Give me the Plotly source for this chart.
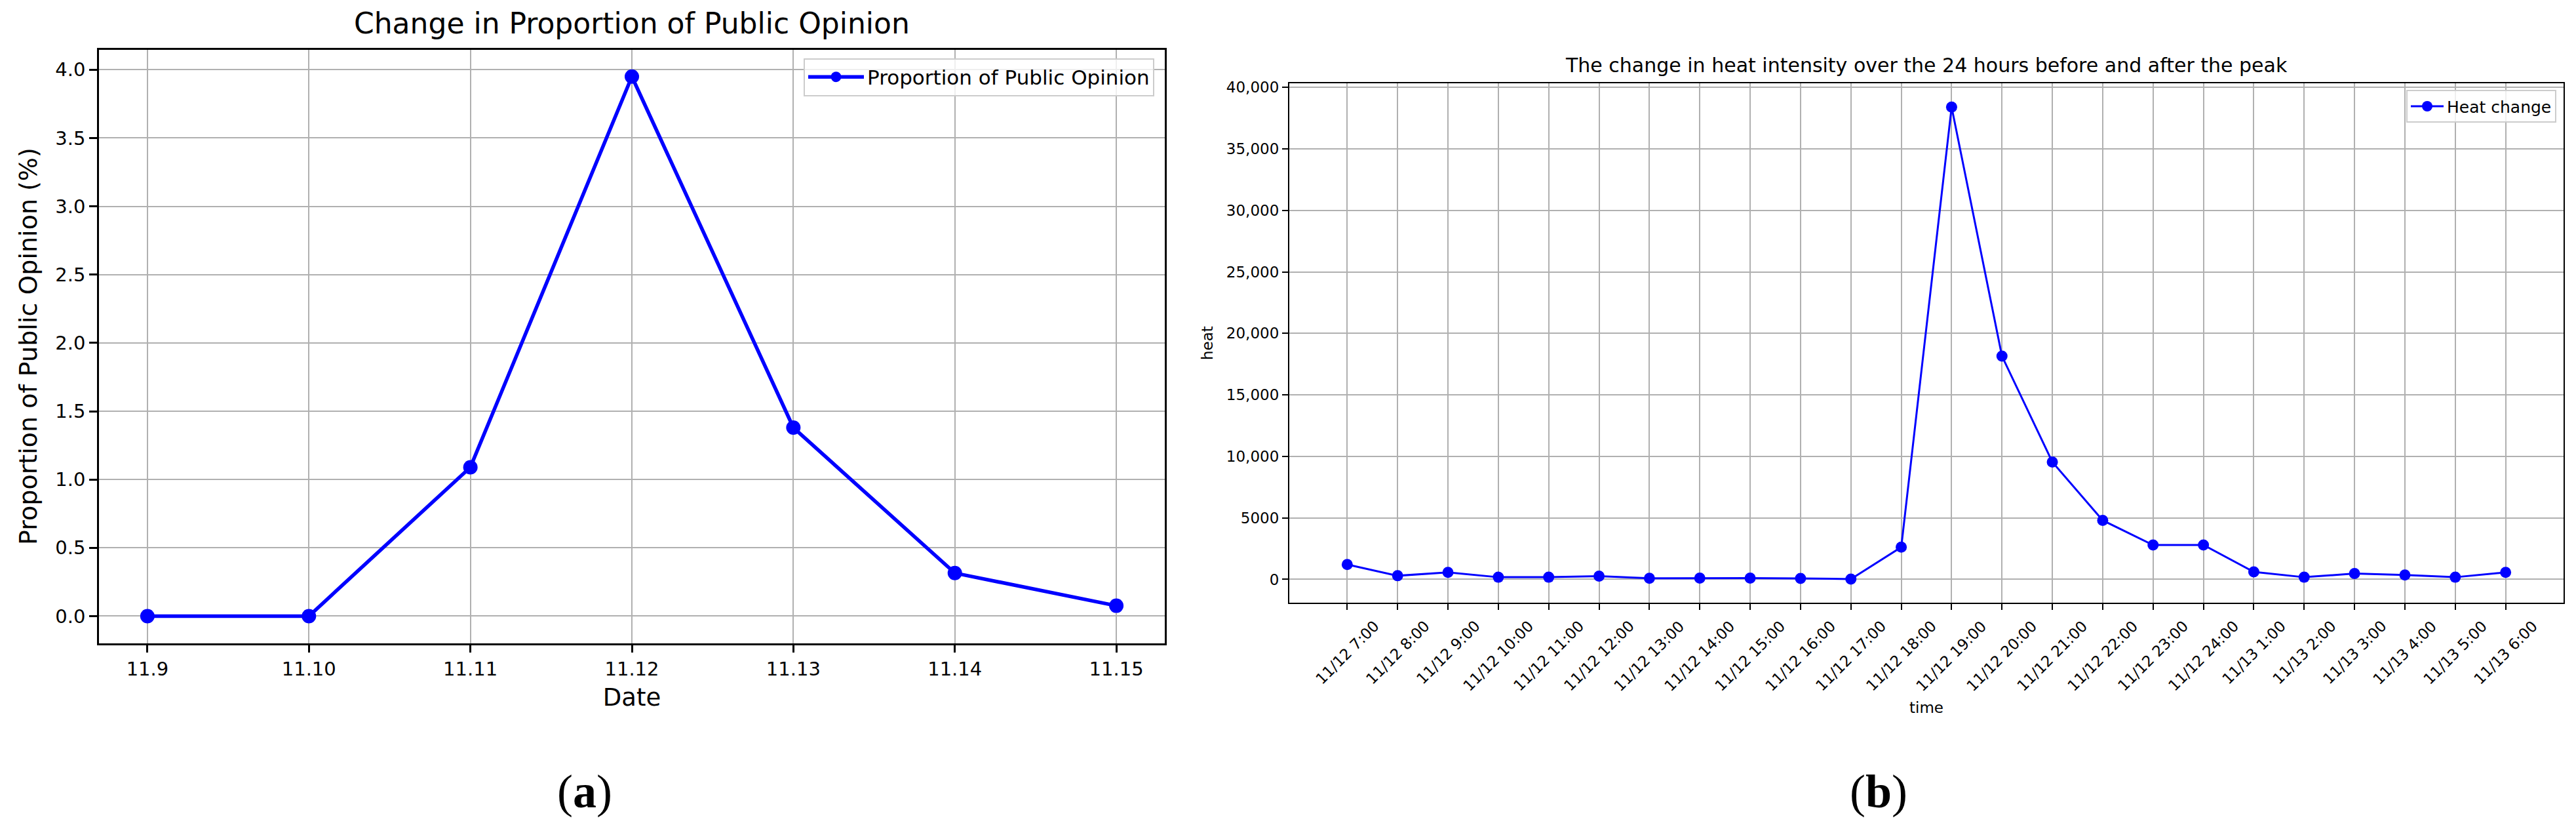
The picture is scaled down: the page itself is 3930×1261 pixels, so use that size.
import numpy as np
import plotly.graph_objects as go

# ---------------- data ----------------
dates = ["11.9", "11.10", "11.11", "11.12", "11.13", "11.14", "11.15"]
opinion_pct = [0.0, 0.0, 1.09, 3.95, 1.38, 0.315, 0.076]

hours = ["11/12 7:00", "11/12 8:00", "11/12 9:00", "11/12 10:00", "11/12 11:00",
         "11/12 12:00", "11/12 13:00", "11/12 14:00", "11/12 15:00", "11/12 16:00",
         "11/12 17:00", "11/12 18:00", "11/12 19:00", "11/12 20:00", "11/12 21:00",
         "11/12 22:00", "11/12 23:00", "11/12 24:00", "11/13 1:00", "11/13 2:00",
         "11/13 3:00", "11/13 4:00", "11/13 5:00", "11/13 6:00"]
heat = [1210, 300, 570, 180, 180, 270, 90, 110, 110, 80, 30, 2620,
        38400, 18150, 9550, 4800, 2800, 2800, 610, 180, 480, 360, 180, 570]

a_yticks = [0.0, 0.5, 1.0, 1.5, 2.0, 2.5, 3.0, 3.5, 4.0]
b_yticks = [0, 5000, 10000, 15000, 20000, 25000, 30000, 35000, 40000]
b_yticklabels = ["0", "5000", "10,000", "15,000", "20,000", "25,000", "30,000", "35,000", "40,000"]

# ---------------- layout helpers ----------------
W, H = 3930, 1261
FONT = "DejaVu Sans"


def fx(p):
    return p / W


def fy(p):
    return 1 - p / H


def pad_range(vals, frac=0.05):
    lo, hi = float(np.min(vals)), float(np.max(vals))
    m = (hi - lo) * frac
    return [lo - m, hi + m]


def cat_range(n, frac=0.05):
    m = (n - 1) * frac
    return [-m, n - 1 + m]


GRID = "#b0b0b0"

fig = go.Figure()

fig.add_trace(go.Scatter(
    x=dates, y=opinion_pct, mode="lines+markers",
    name="Proportion of Public Opinion",
    line=dict(color="#0000ff", width=5.5),
    marker=dict(color="#0000ff", size=22),
    xaxis="x", yaxis="y", legend="legend",
))

fig.add_trace(go.Scatter(
    x=hours, y=heat, mode="lines+markers",
    name="Heat change",
    line=dict(color="#0000ff", width=3),
    marker=dict(color="#0000ff", size=17),
    xaxis="x2", yaxis="y2", legend="legend2",
))

axis_common = dict(
    showline=True, mirror=True, linecolor="black",
    ticks="outside", tickcolor="black",
    showgrid=True, gridcolor=GRID, zeroline=False,
)

annotations = []

# panel titles
annotations.append(dict(text="Change in Proportion of Public Opinion",
                        x=fx((151 + 1777) / 2), y=fy(29), xref="paper", yref="paper",
                        xanchor="center", yanchor="middle", showarrow=False,
                        font=dict(family=FONT, size=44, color="black")))
annotations.append(dict(text="The change in heat intensity over the 24 hours before and after the peak",
                        x=fx((1967 + 3911) / 2), y=fy(93), xref="paper", yref="paper",
                        xanchor="center", yanchor="middle", showarrow=False,
                        font=dict(family=FONT, size=30, color="black")))

# rotated tick labels for panel b (centered under ticks, matplotlib style)
for h in hours:
    annotations.append(dict(text=h, x=h, y=fy(937), xref="x2", yref="paper",
                            xanchor="center", yanchor="top", textangle=-45,
                            showarrow=False,
                            font=dict(family=FONT, size=23, color="black")))

# sub-figure captions
annotations.append(dict(text="(<b>a</b>)", x=fx(892), y=fy(1207), xref="paper", yref="paper",
                        xanchor="center", yanchor="middle", showarrow=False,
                        font=dict(family="Liberation Serif", size=72, color="black")))
annotations.append(dict(text="(<b>b</b>)", x=fx(2866), y=fy(1207), xref="paper", yref="paper",
                        xanchor="center", yanchor="middle", showarrow=False,
                        font=dict(family="Liberation Serif", size=72, color="black")))

fig.update_layout(
    width=W, height=H,
    margin=dict(l=0, r=0, t=0, b=0),
    paper_bgcolor="white", plot_bgcolor="white",
    font=dict(family=FONT, color="black"),
    showlegend=True,
    xaxis=dict(
        domain=[fx(151), fx(1777)], anchor="y",
        type="category", categoryorder="array", categoryarray=dates,
        range=cat_range(len(dates)),
        linewidth=2.7, ticklen=12, tickwidth=2.5, gridwidth=2,
        tickfont=dict(family=FONT, size=29, color="black"),
        title=dict(text="Date", font=dict(family=FONT, size=37, color="black"), standoff=14),
        **axis_common,
    ),
    yaxis=dict(
        domain=[fy(979), fy(69)], anchor="x",
        range=pad_range(opinion_pct),
        tickvals=a_yticks, tickformat=".1f",
        linewidth=2.7, ticklen=12, tickwidth=2.5, gridwidth=2,
        tickfont=dict(family=FONT, size=29, color="black"),
        title=dict(text="Proportion of Public Opinion (%)",
                   font=dict(family=FONT, size=38, color="black"), standoff=16),
        **axis_common,
    ),
    xaxis2=dict(
        domain=[fx(1967), fx(3911)], anchor="y2",
        type="category", categoryorder="array", categoryarray=hours,
        range=cat_range(len(hours)),
        showticklabels=False,
        linewidth=2.2, ticklen=9, tickwidth=2, gridwidth=1.6,
        title=dict(text="time", font=dict(family=FONT, size=23, color="black"), standoff=142),
        **axis_common,
    ),
    yaxis2=dict(
        domain=[fy(917), fy(121)], anchor="x2",
        range=pad_range(heat),
        tickvals=b_yticks, ticktext=b_yticklabels,
        linewidth=2.2, ticklen=9, tickwidth=2, gridwidth=1.6,
        tickfont=dict(family=FONT, size=23, color="black"),
        title=dict(text="heat", font=dict(family=FONT, size=23, color="black"), standoff=14),
        **axis_common,
    ),
    legend=dict(
        x=fx(1761), y=fy(82), xanchor="right", yanchor="top",
        bgcolor="rgba(255,255,255,0.8)", bordercolor="#cccccc", borderwidth=2,
        font=dict(family=FONT, size=31, color="black"), itemwidth=85,
    ),
    legend2=dict(
        x=fx(3900), y=fy(131), xanchor="right", yanchor="top",
        bgcolor="rgba(255,255,255,0.8)", bordercolor="#cccccc", borderwidth=2,
        font=dict(family=FONT, size=25, color="black"), itemwidth=50,
    ),
    annotations=annotations,
)

fig.write_html(
    "out.html",
    config={"displayModeBar": False},
    post_script="document.body.style.margin='0px';document.body.style.overflow='hidden';",
)
